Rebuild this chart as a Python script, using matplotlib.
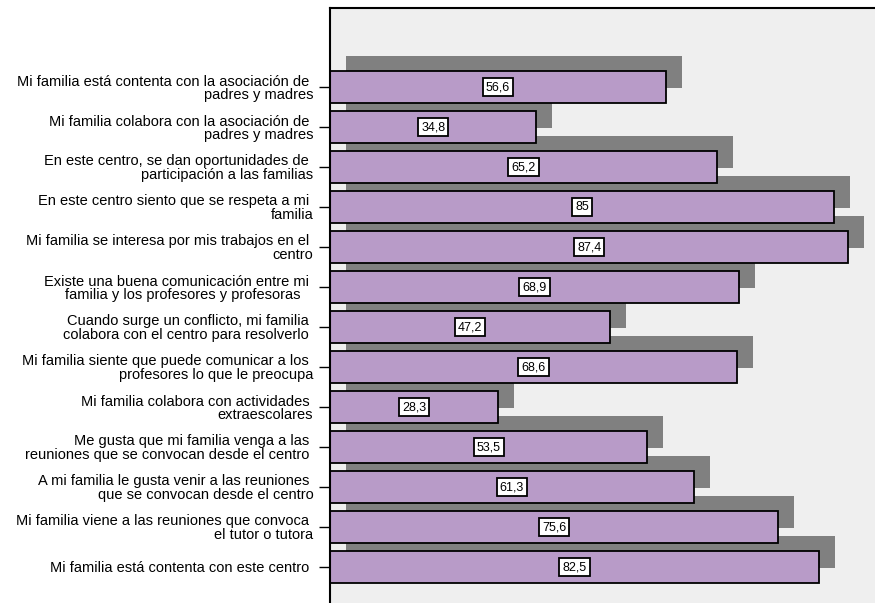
import matplotlib.pyplot as plt

# chart data (top to bottom)
labels = [
    "Mi familia está contenta con la asociación de \npadres y madres",
    "Mi familia colabora con la asociación de \npadres y madres",
    "En este centro, se dan oportunidades de \nparticipación a las familias",
    "En este centro siento que se respeta a mi \nfamilia",
    "Mi familia se interesa por mis trabajos en el \ncentro",
    "Existe una buena comunicación entre mi \nfamilia y los profesores y profesoras   ",
    "Cuando surge un conflicto, mi familia \ncolabora con el centro para resolverlo ",
    "Mi familia siente que puede comunicar a los \nprofesores lo que le preocupa",
    "Mi familia colabora con actividades \nextraescolares",
    "Me gusta que mi familia venga a las \nreuniones que se convocan desde el centro ",
    "A mi familia le gusta venir a las reuniones \nque se convocan desde el centro",
    "Mi familia viene a las reuniones que convoca \nel tutor o tutora",
    "Mi familia está contenta con este centro ",
]
values = [56.6, 34.8, 65.2, 85, 87.4, 68.9, 47.2, 68.6, 28.3, 53.5, 61.3, 75.6, 82.5]
value_text = ["56,6", "34,8", "65,2", "85", "87,4", "68,9", "47,2", "68,6", "28,3", "53,5", "61,3", "75,6", "82,5"]

plt.rcParams['font.family'] = ['Liberation Sans', 'DejaVu Sans']

fig = plt.figure(figsize=(8.75, 6.03), dpi=100)
W, H = 875, 603
# axes runs off the right and bottom edge like in the original
left, top, right, bottom = 330, 8, 890, 612
ax = fig.add_axes([left / W, 1 - bottom / H, (right - left) / W, (bottom - top) / H])
ax.set_facecolor('#efefef')

px_per_unit = 5.93
ax.set_xlim(0, (right - left) / px_per_unit)
ax.set_ylim(12 + (bottom - 567.0) / 40.0, -(87.0 - top) / 40.0)

pos = list(range(len(values)))
bar_h = 0.78
dx = 16 / px_per_unit  # shadow offset
dy = -15 / 40.0

# shadows first so every shadow sits behind all bars
ax.barh([p + dy for p in pos], values, left=dx, height=bar_h, color='#808080', zorder=1)
ax.barh(pos, values, height=bar_h, color='#b89bc8', edgecolor='black', linewidth=1.3, zorder=2)

for p, v, t in zip(pos, values, value_text):
    ax.text(v / 2, p, t, ha='center', va='center', fontsize=9, zorder=3,
            bbox=dict(boxstyle='square,pad=0.25', facecolor='white', edgecolor='black', linewidth=1.3))

ax.set_yticks(pos)
ax.set_yticklabels(labels, fontsize=10.5, linespacing=0.95)
for lab in ax.get_yticklabels():
    lab.set_multialignment('right')
ax.tick_params(axis='y', direction='out', length=8, width=1, pad=4)
ax.set_xticks([])

for side in ['right', 'bottom']:
    ax.spines[side].set_visible(False)
ax.spines['left'].set_linewidth(1.5)
ax.spines['top'].set_linewidth(1.5)

fig.savefig('out.png', dpi=100)
